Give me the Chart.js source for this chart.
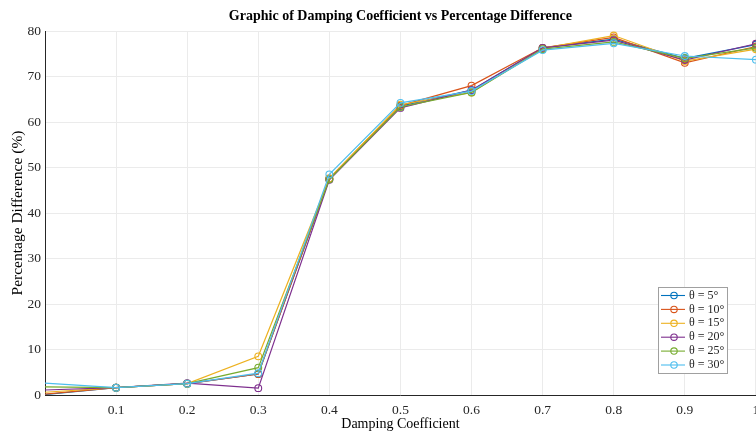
<!DOCTYPE html>
<html>
<head>
<meta charset="utf-8">
<script src="https://cdn.jsdelivr.net/npm/chart.js@4"></script>
<style>
  html, body { margin: 0; padding: 0; background: #fff; overflow: hidden; }
  #wrap { width: 761px; height: 433px; }
</style>
</head>
<body>
<div id="wrap"><canvas id="dampingChart"></canvas></div>
<script>
// Damping coefficient (x) and percentage difference per release angle
const dampingCoeff = [0, 0.1, 0.2, 0.3, 0.4, 0.5, 0.6, 0.7, 0.8, 0.9, 1.0];
const theta5  = [0.1, 1.6, 2.5, 4.6, 47.5, 63.5, 67.0, 76.3, 78.2, 74.0, 77.0];
const theta10 = [0.2, 1.6, 2.5, 4.6, 47.6, 63.6, 68.0, 76.3, 78.6, 73.0, 76.6];
const theta15 = [0.6, 1.6, 2.5, 8.5, 47.6, 63.8, 66.5, 76.2, 79.0, 73.4, 76.0];
const theta20 = [1.1, 1.6, 2.6, 1.5, 47.3, 63.1, 67.0, 76.3, 78.0, 73.6, 77.2];
const theta25 = [1.8, 1.6, 2.5, 6.0, 47.4, 63.3, 66.5, 76.0, 77.6, 74.0, 76.3];
const theta30 = [2.6, 1.6, 2.5, 4.8, 48.5, 64.2, 66.8, 75.8, 77.3, 74.5, 73.7];

const seriesLabels = ['θ = 5°', 'θ = 10°', 'θ = 15°', 'θ = 20°', 'θ = 25°', 'θ = 30°'];
const seriesValues = [theta5, theta10, theta15, theta20, theta25, theta30];
const seriesColors = ['#0072BD', '#D95319', '#EDB120', '#7E2F8E', '#77AC30', '#4DBEEE'];

const xTicks = [0.1, 0.2, 0.3, 0.4, 0.5, 0.6, 0.7, 0.8, 0.9, 1];
const yTicks = [0, 10, 20, 30, 40, 50, 60, 70, 80];

const chartTitle = 'Graphic of Damping Coefficient vs Percentage Difference';
const serif = "'Liberation Serif', 'Times New Roman', serif";

// title centred over the plot area, like MATLAB does
const plotTitle = {
  id: 'plotTitle',
  afterDraw(chart) {
    const ctx = chart.ctx;
    const area = chart.chartArea;
    ctx.save();
    ctx.font = 'bold 14px ' + serif;
    ctx.fillStyle = '#000';
    ctx.textAlign = 'center';
    ctx.textBaseline = 'middle';
    ctx.fillText(chartTitle, (area.left + area.right) / 2, 16);
    ctx.restore();
  }
};

// MATLAB-style legend: short line with hollow circle marker, boxed
const matlabLegend = {
  id: 'matlabLegend',
  afterDraw(chart) {
    const ctx = chart.ctx;
    const area = chart.chartArea;
    const sets = chart.data.datasets;
    const rowH = 13.9;
    const boxW = 69, boxH = 86;
    const x0 = Math.round(area.right - boxW - 29);
    const y0 = Math.round(area.bottom - boxH - 22);
    ctx.save();
    ctx.fillStyle = '#fff';
    ctx.fillRect(x0, y0, boxW, boxH);
    ctx.strokeStyle = '#a0a0a0';
    ctx.lineWidth = 1;
    ctx.strokeRect(x0 + 0.5, y0 + 0.5, boxW, boxH);
    ctx.font = '12px ' + serif;
    ctx.textBaseline = 'middle';
    sets.forEach((ds, i) => {
      const y = y0 + 8 + rowH * i + 0.5;
      ctx.strokeStyle = ds.borderColor;
      ctx.lineWidth = 1.1;
      ctx.beginPath();
      ctx.moveTo(x0 + 3, y);
      ctx.lineTo(x0 + 27, y);
      ctx.stroke();
      ctx.beginPath();
      ctx.arc(x0 + 16, y, 3.2, 0, Math.PI * 2);
      ctx.stroke();
      ctx.fillStyle = '#262626';
      ctx.fillText(ds.label, x0 + 31, y);
    });
    ctx.restore();
  }
};

const datasets = seriesLabels.map((label, i) => ({
  label: label,
  data: dampingCoeff.map((x, j) => ({ x: x, y: seriesValues[i][j] })),
  borderColor: seriesColors[i],
  backgroundColor: 'rgba(0,0,0,0)',
  pointBorderColor: seriesColors[i],
  pointBackgroundColor: 'rgba(0,0,0,0)',
  pointRadius: dampingCoeff.map(x => (x === 0 ? 0 : 3.4)),
  pointBorderWidth: 1.1,
  borderWidth: 1.2,
  tension: 0,
  order: seriesLabels.length - i
}));

new Chart(document.getElementById('dampingChart'), {
  type: 'line',
  data: { datasets: datasets },
  options: {
    responsive: true,
    maintainAspectRatio: false,
    animation: false,
    layout: { padding: { left: 4, right: 1, top: 31, bottom: 2 } },
    plugins: {
      legend: { display: false },
      tooltip: { enabled: false },
      title: { display: false }
    },
    scales: {
      x: {
        type: 'linear',
        min: 0,
        max: 1,
        afterBuildTicks: (axis) => { axis.ticks = [0].concat(xTicks).map(v => ({ value: v })); },
        afterFit: (axis) => {
          axis.height = 36;
          axis.paddingLeft = 0;
          axis.paddingRight = 0;
        },
        ticks: {
          color: '#262626',
          font: { family: serif, size: 13.5 },
          padding: 7,
          maxRotation: 0,
          callback: (v) => (v === 0 ? '' : String(Math.round(v * 10) / 10))
        },
        grid: { color: '#ebebeb', drawTicks: false },
        border: { color: '#262626' },
        title: {
          display: true,
          text: 'Damping Coefficient',
          color: '#000',
          font: { family: serif, size: 14, lineHeight: 1 },
          padding: { top: 0, bottom: 0 }
        }
      },
      y: {
        type: 'linear',
        min: 0,
        max: 80,
        afterBuildTicks: (axis) => { axis.ticks = yTicks.map(v => ({ value: v })); },
        afterFit: (axis) => {
          axis.width = 41;
          axis.paddingTop = 0;
        },
        ticks: {
          color: '#262626',
          font: { family: serif, size: 13.5 },
          padding: 4
        },
        grid: { color: '#ebebeb', drawTicks: false },
        border: { color: '#262626' },
        title: {
          display: true,
          text: 'Percentage Difference (%)',
          color: '#000',
          font: { family: serif, size: 15.5, lineHeight: 1 },
          padding: { top: 6, bottom: 0 }
        }
      }
    }
  },
  plugins: [plotTitle, matlabLegend]
});
</script>
</body>
</html>
